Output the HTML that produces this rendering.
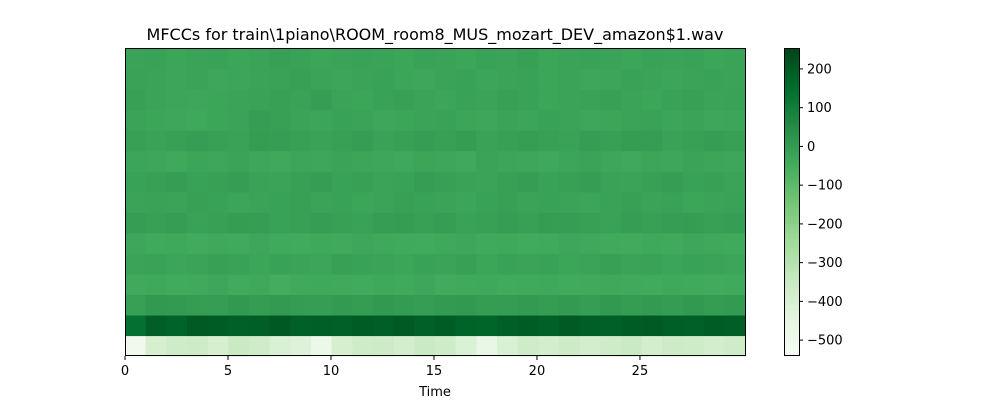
<!DOCTYPE html>
<html><head><meta charset="utf-8"><style>
body{margin:0;background:#fff;font-family:"Liberation Sans","DejaVu Sans",sans-serif}
</style></head><body>
<svg id="chart" width="1000" height="400" xmlns="http://www.w3.org/2000/svg" font-family="DejaVu Sans, Liberation Sans, sans-serif">
<text x="435" y="40" font-size="16" text-anchor="middle">MFCCs for train\1piano\ROOM_room8_MUS_mozart_DEV_amazon$1.wav</text>
<g id="cells"></g>
<rect x="125.5" y="48.5" width="620" height="307" fill="none" stroke="#000"/>
<g id="xticks"></g>
<text x="435" y="396" font-size="13" text-anchor="middle">Time</text>
<g id="cbar"></g>
</svg>
<script>
const timeTicks=[0,5,10,15,20,25];
const cbTicks=[200,100,0,-100,-200,-300,-400,-500];
const duration=30.1, vmin=-541, vmax=254;
// rows from bottom (coef 0) to top (coef 14); 30 columns each (1 s)
const row0=[-500,-390,-370,-360,-390,-350,-370,-400,-420,-480,-390,-370,-360,-380,-350,-370,-410,-470,-400,-370,-380,-360,-380,-370,-350,-380,-360,-370,-380,-370];
const row1=[140,190,180,200,195,185,190,205,185,190,185,195,190,200,185,195,180,175,190,195,185,200,190,185,195,200,190,185,195,190];
const row2=[-10,10,5,0,-5,8,0,5,-2,-5,5,0,10,2,-5,5,8,0,-2,5,0,5,-5,10,0,5,-2,8,0,5];
const row3=[-40,-35,-45,-40,-30,-45,-35,-50,-40,-35,-40,-45,-35,-40,-30,-45,-40,-35,-45,-40,-35,-45,-40,-35,-40,-45,-35,-40,-45,-40];
const row4=[-20,-15,-25,-20,-10,-15,-25,-15,-20,-25,-10,-15,-20,-25,-15,-20,-10,-25,-15,-20,-15,-25,-20,-10,-20,-15,-25,-15,-20,-25];
const row5=[-30,-40,-35,-45,-35,-40,-30,-40,-45,-35,-40,-30,-35,-40,-45,-35,-30,-40,-35,-45,-40,-30,-35,-40,-45,-35,-40,-30,-35,-40];
const row6=[-5,-10,-5,-15,-10,0,-5,-15,-10,-5,-10,-15,-5,0,-10,-5,-15,-10,-5,-10,0,-5,-10,-15,-5,-10,-5,0,-10,-5];
const row7=[-20,-15,-20,-10,-15,-25,-20,-15,-10,-20,-15,-25,-20,-10,-15,-20,-25,-15,-10,-20,-15,-20,-25,-15,-10,-20,-15,-25,-20,-15];
const row8=[-15,-10,-5,-15,-10,-5,-15,-20,-10,-5,-15,-10,-20,-15,-5,-10,-15,-20,-10,-5,-15,-10,-5,-15,-20,-10,-5,-15,-10,-20];
const row9=[-25,-30,-35,-25,-30,-20,-30,-35,-25,-30,-20,-25,-30,-35,-25,-30,-35,-20,-25,-30,-35,-25,-20,-30,-35,-25,-30,-20,-25,-30];
const row10=[-10,-15,-10,-5,-10,-15,0,-5,-10,-15,-10,-5,-15,-10,-5,-10,0,-15,-10,-5,-10,-15,-5,-10,0,-5,-15,-10,-5,-10];
const row11=[-20,-25,-30,-35,-25,-20,-5,-10,-20,-25,-15,-20,-30,-25,-20,-15,-25,-30,-20,-25,-15,-20,-30,-25,-20,-15,-25,-20,-30,-25];
const row12=[-10,-20,-25,-30,-25,-20,-15,-10,-15,-5,-20,-25,-15,-10,-20,-25,-15,-20,-10,-15,-25,-20,-15,-10,-20,-25,-15,-10,-20,-15];
const row13=[-15,-20,-25,-20,-30,-25,-20,-15,-10,-20,-25,-20,-15,-25,-30,-20,-15,-25,-20,-15,-25,-20,-30,-25,-15,-20,-25,-20,-15,-20];
const row14=[-20,-15,-25,-20,-15,-25,-20,-10,-15,-25,-20,-15,-20,-25,-15,-20,-25,-15,-20,-10,-25,-20,-15,-20,-25,-15,-20,-15,-25,-20];
const rows=[row0,row1,row2,row3,row4,row5,row6,row7,row8,row9,row10,row11,row12,row13,row14];

const NS="http://www.w3.org/2000/svg";
const px0=125,px1=745,py0=48,py1=356;
const xScale=t=>px0+(t/duration)*(px1-px0);
const rowH=(py1-py0)/rows.length;
const stops=["#f7fcf5","#e5f5e0","#c7e9c0","#a1d99b","#74c476","#41ab5d","#238b45","#006d2c","#00441b"];
function hex(h){return [1,3,5].map(i=>parseInt(h.substr(i,2),16));}
function cmap(v){let t=Math.max(0,Math.min(1,(v-vmin)/(vmax-vmin)))*8;let i=Math.min(7,Math.floor(t)),f=t-i;
 const a=hex(stops[i]),b=hex(stops[i+1]);return "rgb("+a.map((c,k)=>Math.round(c+(b[k]-c)*f)).join(",")+")";}
function el(tag,attrs,parent){const e=document.createElementNS(NS,tag);for(const k in attrs)e.setAttribute(k,attrs[k]);parent.appendChild(e);return e;}
const cells=document.getElementById("cells");
rows.forEach((r,ri)=>{
  const n=r.length, colW=duration/n;
  r.forEach((v,ci)=>{
    const x0=xScale(ci*colW), x1=xScale(Math.min(duration,(ci+1)*colW));
    const y=py1-(ri+1)*rowH;
    const c=el("rect",{x:x0,y:y,width:x1-x0+0.6,height:rowH+0.6,fill:cmap(v)},cells);
    
    
  });
});
const xt=document.getElementById("xticks");
timeTicks.forEach(t=>{
  const x=xScale(t);
  const l=el("line",{x1:x,x2:x,y1:356,y2:360,stroke:"#000"},xt);
  
  
  const tx=el("text",{x:x,y:375,"font-size":13,"text-anchor":"middle"},xt);
  tx.textContent=t;
  
  
});
const cb=document.getElementById("cbar");
const cbx=784,cbw=15;
const cy=v=>py1-(v-vmin)/(vmax-vmin)*(py1-py0);
for(let i=0;i<154;i++){
  const v0=vmin+(vmax-vmin)*i/154;
  const s=el("rect",{x:cbx,y:cy(v0+(vmax-vmin)/154),width:cbw,height:(py1-py0)/154+0.5,fill:cmap(v0+(vmax-vmin)/308)},cb);
  
  
}
const fr=el("rect",{x:cbx+0.5,y:py0+0.5,width:cbw,height:py1-py0-1,fill:"none",stroke:"#000"},cb);


cbTicks.forEach(v=>{
  const y=cy(v);
  const l=el("line",{x1:cbx+cbw,x2:cbx+cbw+4,y1:y,y2:y,stroke:"#000"},cb);
  
  
  const tx=el("text",{x:cbx+cbw+8,y:y+4.5,"font-size":13},cb);
  tx.textContent=v<0?"\u2212"+(-v):String(v);
  
  
});
</script>
</body></html>
